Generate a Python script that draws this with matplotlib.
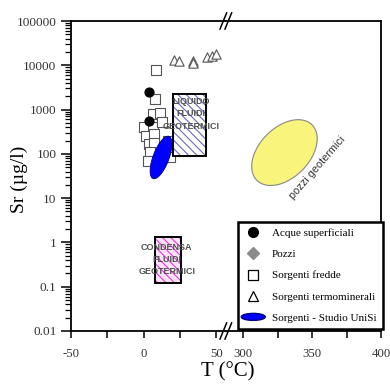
import numpy as np
import matplotlib
matplotlib.use("Agg")
import matplotlib.pyplot as plt
from matplotlib.lines import Line2D
from matplotlib.patches import Rectangle, Ellipse
from matplotlib.legend_handler import HandlerPatch
from matplotlib.ticker import FixedLocator, FuncFormatter, LogLocator, NullFormatter

# data
acque_T = [4, 4]
acque_Sr = [2500, 550]

pozzi_T = []
pozzi_Sr = []

fredde_T = [8.2, 8.0, 6.2, 11.4, 0.0, 6.4, 12.6, 1.8, 7.3, 3.7, 7.3, 4.6, 16.9, 18.3, 3.2]
fredde_Sr = [7900, 1780, 780, 820, 400, 415, 520, 260, 285, 170, 180, 110, 200, 83, 70]

termo_T = [21.0, 24.7, 33.8, 34.2, 43.8, 47.1, 49.8]
termo_Sr = [13500, 12600, 12400, 11300, 15200, 16100, 18500]

# fields: (T min, T max, Sr min, Sr max)
liquido_box = (20, 43, 90, 2300)
condensa_box = (8, 26, 0.12, 1.35)

# ellipses: centre (T, Sr), axis vectors in (T, decades of Sr)
unisi_centre = (12, 83)
unisi_major = (5.5, 0.476)
unisi_minor = (-5.1, 0.065)

pozzi_geo_centre = (330, 107)
pozzi_geo_major = (20, 0.626)
pozzi_geo_minor = (-12.8, 0.40)

xticks_left = [-50, -25, 0, 25, 50]
xticks_right = [300, 325, 350, 375, 400]
yticks = [0.01, 0.1, 1, 10, 100, 1000, 10000, 100000]

serif = "Liberation Serif"
sans = "Liberation Sans"


def ellipse_xy(centre, major, minor):
    t = np.linspace(0, 2 * np.pi, 200)
    x = centre[0] + major[0] * np.cos(t) + minor[0] * np.sin(t)
    ly = np.log10(centre[1]) + major[1] * np.cos(t) + minor[1] * np.sin(t)
    return x, 10 ** ly


def hatched_box(ax, box, face, hatch_col):
    x0, x1, y0, y1 = box
    ax.add_patch(Rectangle((x0, y0), x1 - x0, y1 - y0, facecolor=face,
                           edgecolor=hatch_col, hatch="\\\\\\\\", lw=0, zorder=3))
    ax.add_patch(Rectangle((x0, y0), x1 - x0, y1 - y0, fill=False,
                           edgecolor="black", lw=1.4, zorder=3.1))


plt.rcParams["hatch.linewidth"] = 0.8

fig = plt.figure(figsize=(3.9, 3.85), dpi=100)
ax_l = fig.add_axes([0.182, 0.1403, 0.397, 0.805])
ax_r = fig.add_axes([0.579, 0.1403, 0.398, 0.805], sharey=ax_l)

ax_l.set_yscale("log")
ax_l.set_ylim(0.01, 100000)
ax_l.set_xlim(-50, 56.6)
ax_r.set_xlim(287.5, 400)

# points
ax_l.scatter(fredde_T, fredde_Sr, marker="s", s=48, facecolor="white",
             edgecolor="#555555", linewidths=0.8, zorder=2)
ax_l.scatter(termo_T, termo_Sr, marker="^", s=45, facecolor="white",
             edgecolor="#555555", linewidths=0.8, zorder=2)
ax_l.scatter(pozzi_T, pozzi_Sr, marker="D", s=30, color="#808080", zorder=2)

hatched_box(ax_l, liquido_box, "white", "#6b6bb5")
hatched_box(ax_l, condensa_box, "#fbe3f6", "#e040d8")

ax_l.scatter(acque_T, acque_Sr, marker="o", s=40, color="black", zorder=4)

ex, ey = ellipse_xy(unisi_centre, unisi_major, unisi_minor)
ax_l.fill(ex, ey, facecolor="#0000ff", edgecolor="#000080", lw=0.6, zorder=5)

px, py = ellipse_xy(pozzi_geo_centre, pozzi_geo_major, pozzi_geo_minor)
ax_r.fill(px, py, facecolor="#f9f47c", edgecolor="#888888", lw=0.8, zorder=2)

box_txt = dict(ha="center", va="center", fontsize=6.5, fontweight="bold",
               family=sans, color="#505050", linespacing=1.45, zorder=6)
ax_l.text(32.5, 800, "LIQUIDO\nFLUIDI\nGEOTERMICI", **box_txt)
ax_l.text(16, 0.41, "CONDENSA\nFLUIDI\nGEOTERMICI", **box_txt)
ax_r.text(354, 49, "pozzi geotermici", rotation=49, ha="center", va="center",
          fontsize=7.8, family=sans, color="#333333")

# axes styling
for ax in (ax_l, ax_r):
    for sp in ax.spines.values():
        sp.set_linewidth(1.3)
    ax.tick_params(axis="x", direction="out", length=5, width=1.1,
                   labelsize=9.2, pad=7)
ax_l.spines["right"].set_visible(False)
ax_r.spines["left"].set_visible(False)

ax_l.xaxis.set_major_locator(FixedLocator(xticks_left))
ax_r.xaxis.set_major_locator(FixedLocator(xticks_right))
ax_l.xaxis.set_major_formatter(FuncFormatter(lambda v, p: "" if v % 50 else f"{v:g}"))
ax_r.xaxis.set_major_formatter(FuncFormatter(lambda v, p: "" if v % 50 else f"{v:g}"))

ax_l.yaxis.set_major_locator(FixedLocator(yticks))
ax_l.yaxis.set_minor_locator(LogLocator(base=10, subs=np.arange(2, 10), numticks=20))
ax_l.yaxis.set_minor_formatter(NullFormatter())
ax_l.yaxis.set_major_formatter(FuncFormatter(lambda v, p: f"{v:g}"))
ax_l.tick_params(axis="y", which="major", direction="out", length=7, width=1.1,
                 labelsize=9.5)
ax_l.tick_params(axis="y", which="minor", direction="out", length=4, width=0.9)
ax_r.tick_params(axis="y", which="both", left=False, labelleft=False)
for lab in ax_l.get_xticklabels() + ax_r.get_xticklabels() + ax_l.get_yticklabels():
    lab.set_family(serif)
    lab.set_color("#333333")

fig.text(0.05, 0.535, "Sr (\u00b5g/l)", rotation=90, ha="center", va="center",
         fontsize=14, family=serif)
fig.text(0.585, 0.035, "T (\u00b0C)", ha="center", va="center", fontsize=15,
         family=serif)

# break marks on top and bottom spines
xb = 0.182 + 0.397
for yb in (0.1403, 0.9455):
    for dx in (-0.0064, 0.0064):
        fig.add_artist(Line2D([xb + dx - 0.0085, xb + dx + 0.0085],
                              [yb - 0.021, yb + 0.021], color="black", lw=1.1,
                              transform=fig.transFigure))


# legend
def make_ellipse(legend, orig_handle, xdescent, ydescent, width, height, fontsize):
    return Ellipse((width / 2 - xdescent, height / 2 - ydescent),
                   width * 1.35, height * 0.9)


handles = [
    Line2D([], [], ls="none", marker="o", ms=7, color="black"),
    Line2D([], [], ls="none", marker="D", ms=6, color="#8c8c8c"),
    Line2D([], [], ls="none", marker="s", ms=6.5, mfc="white", mec="black", mew=0.9),
    Line2D([], [], ls="none", marker="^", ms=7.5, mfc="white", mec="black", mew=0.9),
    Ellipse((0, 0), 1, 1, facecolor="#0000ff", edgecolor="#000080"),
]
labels = ["Acque superficiali", "Pozzi", "Sorgenti fredde",
          "Sorgenti termominerali", "Sorgenti - Studio UniSi"]
leg = ax_r.legend(handles, labels, loc="lower right", bbox_to_anchor=(1.012, 0.005),
                  borderaxespad=0, fancybox=False, framealpha=1, edgecolor="black",
                  prop={"family": serif, "size": 8}, handlelength=1.6,
                  handletextpad=0.85, labelspacing=1.025, borderpad=0.6,
                  handler_map={Ellipse: HandlerPatch(patch_func=make_ellipse)})
leg.get_frame().set_linewidth(1.8)
leg.set_zorder(10)

fig.savefig("out.png", dpi=100, facecolor="white")
